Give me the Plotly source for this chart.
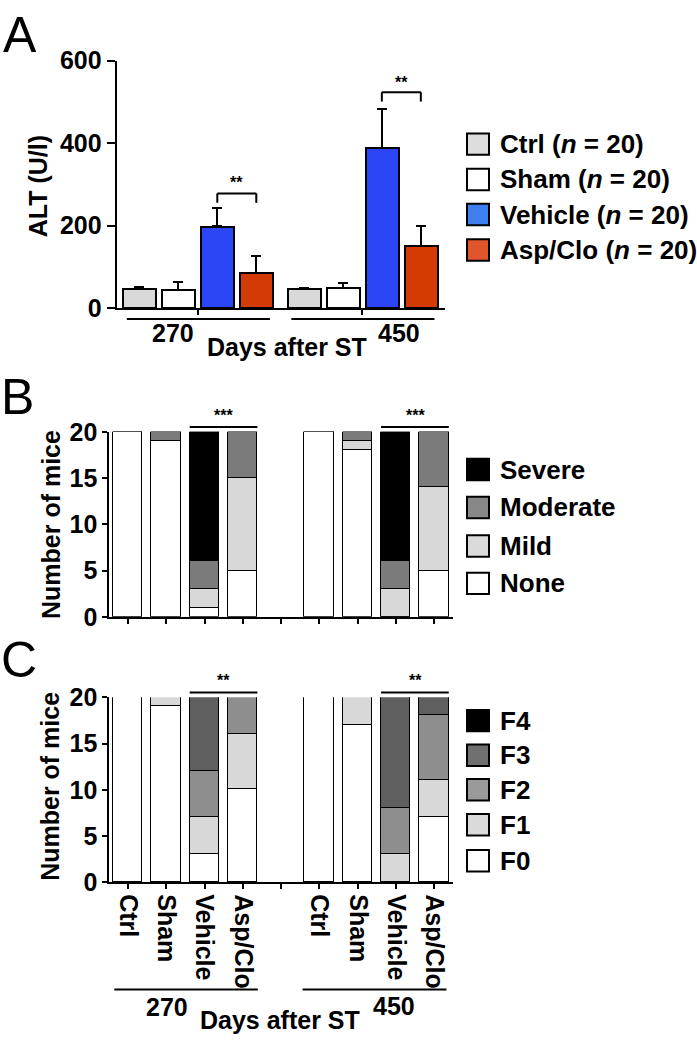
import plotly.graph_objects as go

W, H = 697, 1050
FONT = "Liberation Sans, Arial, Helvetica, sans-serif"

# ---------------- data ----------------
days = ["270", "450"]
treatments = ["Ctrl", "Sham", "Vehicle", "Asp/Clo"]
group_n = [20, 20, 20, 20]

# Panel A: ALT (U/l), mean and upper error (SEM) per day group
alt_ctrl = [46, 46]
alt_sham = [44, 48]
alt_vehicle = [198, 388]
alt_aspclo = [86, 150]
err_ctrl = [4, 3]
err_sham = [19, 13]
err_vehicle = [44, 96]
err_aspclo = [41, 48]

# Panel B: inflammation grade counts (Ctrl, Sham, Vehicle, Asp/Clo at 270 then 450)
severity_levels = ["None", "Mild", "Moderate", "Severe"]
b_none = [20, 19, 1, 5, 20, 18, 0, 5]
b_mild = [0, 0, 2, 10, 0, 1, 3, 9]
b_moderate = [0, 1, 3, 5, 0, 1, 3, 6]
b_severe = [0, 0, 14, 0, 0, 0, 14, 0]

# Panel C: fibrosis stage counts
fibrosis_levels = ["F0", "F1", "F2", "F3", "F4"]
c_f0 = [20, 19, 3, 10, 20, 17, 0, 7]
c_f1 = [0, 1, 4, 6, 0, 3, 3, 4]
c_f2 = [0, 0, 5, 4, 0, 0, 5, 7]
c_f3 = [0, 0, 8, 0, 0, 0, 12, 2]
c_f4 = [0, 0, 0, 0, 0, 0, 0, 0]

sig_a = ["**", "**"]
sig_b = ["***", "***"]
sig_c = ["**", "**"]

# ---------------- styles ----------------
a_colors = ["#d9d9d9", "#ffffff", "#2a46f7", "#d33a04"]
a_legend_colors = ["#dddddd", "#ffffff", "#3f7ef0", "#e0552c"]
b_colors = ["#ffffff", "#d8d8d8", "#7b7b7b", "#000000"]
b_legend_colors = ["#ffffff", "#dadada", "#888888", "#000000"]
c_colors = ["#ffffff", "#d8d8d8", "#8e8e8e", "#5f5f5f", "#000000"]
c_legend_colors = ["#ffffff", "#dadada", "#9a9a9a", "#707070", "#000000"]


def px(x):
    return x / W


def py(y):
    return 1 - y / H


fig = go.Figure()

# ---------- Panel A ----------
GSTEP = 4.22
a_vals = [alt_ctrl, alt_sham, alt_vehicle, alt_aspclo]
a_errs = [err_ctrl, err_sham, err_vehicle, err_aspclo]
for i, t in enumerate(treatments):
    xs = [i + g * GSTEP for g in range(len(days))]
    fig.add_trace(go.Bar(
        x=xs, y=a_vals[i], name=t, width=0.85,
        marker=dict(color=a_colors[i], line=dict(color="black", width=2)),
        error_y=dict(type="data", array=a_errs[i], arrayminus=[0] * len(days),
                     symmetric=False, color="black", thickness=2, width=5),
        xaxis="x", yaxis="y", showlegend=False,
    ))

# ---------- Panel B & C ----------
pos = [0, 1, 2, 3, 5, 6, 7, 8]
for vals, name, col in zip([b_none, b_mild, b_moderate, b_severe], severity_levels, b_colors):
    fig.add_trace(go.Bar(
        x=pos, y=vals, name=name, width=0.77,
        marker=dict(color=col, line=dict(color="black", width=1.3)),
        xaxis="x2", yaxis="y2", showlegend=False,
    ))
for vals, name, col in zip([c_f0, c_f1, c_f2, c_f3, c_f4], fibrosis_levels, c_colors):
    fig.add_trace(go.Bar(
        x=pos, y=vals, name=name, width=0.77,
        marker=dict(color=col, line=dict(color="black", width=1.3)),
        xaxis="x3", yaxis="y3", showlegend=False,
    ))

tickfont = dict(family=FONT, size=25, color="black", weight="bold")
common_axis = dict(showline=True, linecolor="black", linewidth=2, ticks="outside",
                   tickcolor="black", tickwidth=2, showgrid=False, zeroline=False,
                   tickfont=tickfont)

shapes = []
annotations = []


def ann(text, x, y, size=25, xref="paper", angle=0, xanchor="center", bold=True, yanchor="middle"):
    annotations.append(dict(
        text=text, x=x, y=y, xref=xref, yref="paper", showarrow=False,
        xanchor=xanchor, yanchor=yanchor, textangle=angle,
        font=dict(family=FONT, size=size, color="black", weight="bold" if bold else "normal"),
    ))


def hline(x0, x1, y, xref="paper", width=2):
    shapes.append(dict(type="line", xref=xref, yref="paper", x0=x0, x1=x1,
                       y0=py(y), y1=py(y), line=dict(color="black", width=width)))


def vline(x, y0, y1, xref="paper", width=2):
    shapes.append(dict(type="line", xref=xref, yref="paper", x0=x, x1=x,
                       y0=py(y0), y1=py(y1), line=dict(color="black", width=width)))


# Panel letters
ann("A", px(20), py(22), size=50, bold=False)
ann("B", px(17), py(393), size=50, bold=False)
ann("C", px(19), py(664), size=50, bold=False)

# Y titles
ann("ALT (U/l)", px(38), py(177), angle=-90)
ann("Number of mice", px(51), py(525), angle=-90)
ann("Number of mice", px(50), py(794), angle=-90)

# Panel A brackets
a_br = [(2, 3, 184.3, 194, 173), (2 + GSTEP, 3 + GSTEP, 80.3, 90, 70)]
for (x0, x1, ytop, ybot, ys), s in zip(a_br, sig_a):
    hline(x0, x1, ytop, xref="x")
    vline(x0, ytop, ybot, xref="x")
    vline(x1, ytop, ybot, xref="x")
    ann(s, (x0 + x1) / 2, py(ys), size=16, xref="x")

# Panel A group lines + labels
for g in range(len(days)):
    hline(-0.32 + g * GSTEP, 3.35 + g * GSTEP, 313.3, xref="x")
ann(days[0], px(172.5), py(328))
ann(days[1], px(399), py(328))
ann("Days after ST", px(286.7), py(342))

# Panel B / C significance lines
for g in range(2):
    hline(2 - 0.39 + 5 * g, 3 + 0.38 + 5 * g, 424.3, xref="x2")
    ann(sig_b[g], 2.5 + 5 * g, py(412), size=16, xref="x2")
    hline(2 - 0.39 + 5 * g, 3 + 0.38 + 5 * g, 697, xref="x3")
    ann(sig_c[g], 2.5 + 5 * g, py(685), size=16, xref="x3")

# Panel C group lines + labels
hline(-0.36, 3.39, 1002.3, xref="x3")
hline(4.56, 8.32, 1002.3, xref="x3")
ann(days[0], px(166.7), py(1020))
ann(days[1], px(394), py(1019))
ann("Days after ST", px(280), py(1034))


# Legends (manual)
def legend_item(ycenter, color, label):
    shapes.append(dict(type="rect", xref="paper", yref="paper",
                       x0=px(467), x1=px(489), y0=py(ycenter + 11), y1=py(ycenter - 11),
                       fillcolor=color, line=dict(color="black", width=2)))
    ann(label, px(498), py(ycenter), xanchor="left", size=26)


a_rows = [133.7, 170, 206, 242.5]
for i, t in enumerate(treatments):
    legend_item(a_rows[i], a_legend_colors[i], f"{t} (<i>n</i> = {group_n[i]})")

b_rows = [468, 507, 546.5, 585]
for r, idx in zip(b_rows, [3, 2, 1, 0]):
    legend_item(r, b_legend_colors[idx], severity_levels[idx])

c_rows = [726, 761.5, 797, 833, 870]
for r, idx in zip(c_rows, [4, 3, 2, 1, 0]):
    legend_item(r, c_legend_colors[idx], fibrosis_levels[idx])

fig.update_layout(
    width=W, height=H, margin=dict(l=0, r=0, t=0, b=0),
    paper_bgcolor="white", plot_bgcolor="white",
    barmode="stack", bargap=0,
    showlegend=False,
    xaxis=dict(domain=[px(116.7), px(445)], range=[-0.58, 7.84],
               tickvals=[1.5, 1.5 + GSTEP], showticklabels=False, ticklen=5,
               anchor="y", **common_axis),
    yaxis=dict(domain=[py(302), py(48)], range=[0, 600], tickvals=[0, 200, 400, 600],
               ticklen=8, anchor="x", **common_axis),
    xaxis2=dict(domain=[px(109.3), px(453)], range=[-0.49, 8.49],
                tickvals=list(range(9)), showticklabels=False, ticklen=5,
                anchor="y2", **common_axis),
    yaxis2=dict(domain=[py(619.3), py(429.3)], range=[0, 20], tickvals=[0, 5, 10, 15, 20],
                ticklen=5, anchor="x2", **common_axis),
    xaxis3=dict(domain=[px(109.3), px(453)], range=[-0.49, 8.49],
                tickvals=list(range(9)),
                ticktext=treatments + [""] + treatments,
                tickangle=90, ticklen=5, anchor="y3", **common_axis),
    yaxis3=dict(domain=[py(892), py(702)], range=[0, 20], tickvals=[0, 5, 10, 15, 20],
                ticklen=5, anchor="x3", **common_axis),
    shapes=shapes, annotations=annotations,
)

fig.write_html("out.html", config={"displayModeBar": False},
               post_script="document.body.style.margin='0px';document.body.style.overflow='hidden';")
